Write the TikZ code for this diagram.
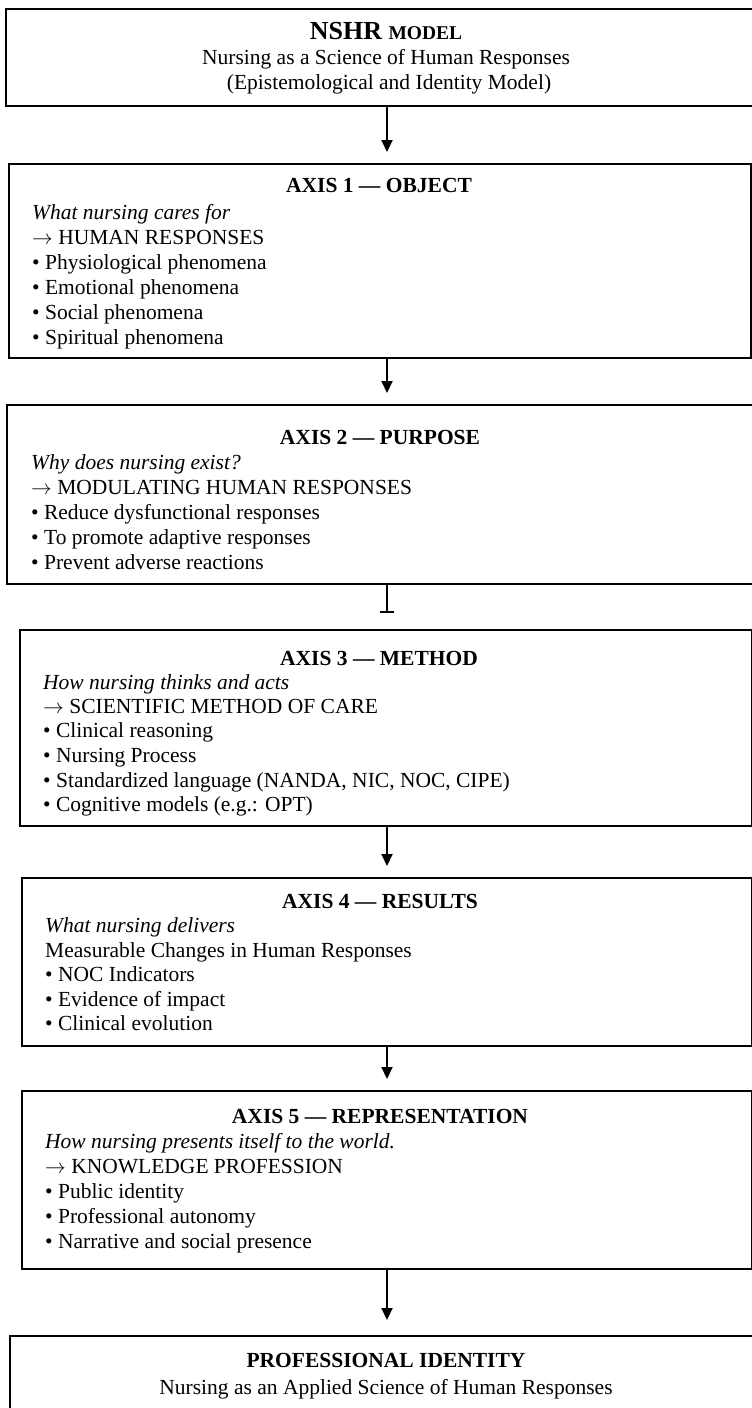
\documentclass[tikz,border=0pt]{standalone}
\usepackage{fontspec}
\setmainfont{Liberation Serif}
\usetikzlibrary{arrows.meta}
\newcommand{\rar}{$\rightarrow$}
\tikzset{
  box/.style={draw, line width=1.8pt, rectangle, anchor=north west, inner sep=0pt},
  txt/.style={anchor=base west, inner sep=0pt, font=\fontsize{21.5}{25}\selectfont},
  ittxt/.style={txt, font=\fontsize{21.5}{25}\selectfont\itshape},
  ttl/.style={anchor=base, inner sep=0pt, font=\fontsize{21.5}{25}\selectfont\bfseries},
  ctr/.style={anchor=base, inner sep=0pt, font=\fontsize{21.5}{25}\selectfont},
  conn/.style={line width=2pt, -{Triangle[width=11pt,length=12pt]}, shorten >=11pt},
  tconn/.style={line width=2pt, -{Bar[width=14pt,line width=2pt]}, shorten >=16pt},
}
\begin{document}
\begin{tikzpicture}[x=1pt,y=-1pt]
\useasboundingbox (0,0) rectangle (752,1408);
\clip (0,0) rectangle (752,1408);
\coordinate (ax) at (387,0);

% top box
\node[box, minimum width=760pt, minimum height=97pt] (top) at (5,8) {};
\node[ttl, font=\bfseries] (topt) at (386,39) {\fontsize{26}{30}\selectfont NSHR \fontsize{19.5}{30}\selectfont MODEL};
\node[ctr] (topl1) at (386,64) {Nursing as a Science of Human Responses};
\node[ctr] (topl2) at (389,89) {(Epistemological and Identity Model)};

% axis 1
\node[box, minimum width=742pt, minimum height=194pt] (b1) at (8,163) {};
\node[ttl] (b1t) at (379,192) {AXIS 1 — OBJECT};
\node[ittxt] (b1a) at (32,219) {What nursing cares for};
\node[txt] (b1b) at (32,244) {\rar{} HUMAN RESPONSES};
\node[txt] (b1c) at (32,269) {• Physiological phenomena};
\node[txt] (b1d) at (32,294) {• Emotional phenomena};
\node[txt] (b1e) at (32,319) {• Social phenomena};
\node[txt] (b1f) at (32,344) {• Spiritual phenomena};

% axis 2
\node[box, minimum width=760pt, minimum height=179pt] (b2) at (6,404) {};
\node[ttl] (b2t) at (380,444) {AXIS 2 — PURPOSE};
\node[ittxt] (b2a) at (31,469) {Why does nursing exist?};
\node[txt] (b2b) at (31,494) {\rar{} MODULATING HUMAN RESPONSES};
\node[txt] (b2c) at (31,519) {• Reduce dysfunctional responses};
\node[txt] (b2d) at (31,544) {• To promote adaptive responses};
\node[txt] (b2e) at (31,569) {• Prevent adverse reactions};

% axis 3
\node[box, minimum width=732pt, minimum height=196pt] (b3) at (19,629) {};
\node[ttl] (b3t) at (379,665) {AXIS 3 — METHOD};
\node[ittxt] (b3a) at (43,689) {How nursing thinks and acts};
\node[txt] (b3b) at (43,713) {\rar{} SCIENTIFIC METHOD OF CARE};
\node[txt] (b3c) at (43,737) {• Clinical reasoning};
\node[txt] (b3d) at (43,762) {• Nursing Process};
\node[txt] (b3e) at (43,787) {• Standardized language (NANDA, NIC, NOC, CIPE)};
\node[txt] (b3f) at (43,811) {• Cognitive models (e.g.: OPT)};

% axis 4
\node[box, minimum width=730pt, minimum height=168pt] (b4) at (21,877) {};
\node[ttl] (b4t) at (380,908) {AXIS 4 — RESULTS};
\node[ittxt] (b4a) at (45,932) {What nursing delivers};
\node[txt] (b4b) at (45,957) {Measurable Changes in Human Responses};
\node[txt] (b4c) at (45,981) {• NOC Indicators};
\node[txt] (b4d) at (45,1006) {• Evidence of impact};
\node[txt] (b4e) at (45,1030) {• Clinical evolution};

% axis 5
\node[box, minimum width=730pt, minimum height=178pt] (b5) at (21,1090) {};
\node[ttl] (b5t) at (380,1123) {AXIS 5 — REPRESENTATION};
\node[ittxt] (b5a) at (45,1148) {How nursing presents itself to the world.};
\node[txt] (b5b) at (45,1173) {\rar{} KNOWLEDGE PROFESSION};
\node[txt] (b5c) at (45,1198) {• Public identity};
\node[txt] (b5d) at (45,1223) {• Professional autonomy};
\node[txt] (b5e) at (45,1248) {• Narrative and social presence};

% final
\node[box, minimum width=760pt, minimum height=100pt] (fin) at (9,1335) {};
\node[ttl] (fint) at (386,1367) {PROFESSIONAL IDENTITY};
\node[ctr] (finl) at (386,1394) {Nursing as an Applied Science of Human Responses};

% connectors
\draw[conn] (top.south -| ax) -- (b1.north -| ax);
\draw[conn] (b1.south -| ax) -- (b2.north -| ax);
\draw[tconn] (b2.south -| ax) -- (b3.north -| ax);
\draw[conn] (b3.south -| ax) -- (b4.north -| ax);
\draw[conn] (b4.south -| ax) -- (b5.north -| ax);
\draw[conn, shorten >=15pt] (b5.south -| ax) -- (fin.north -| ax);
\end{tikzpicture}
\end{document}
